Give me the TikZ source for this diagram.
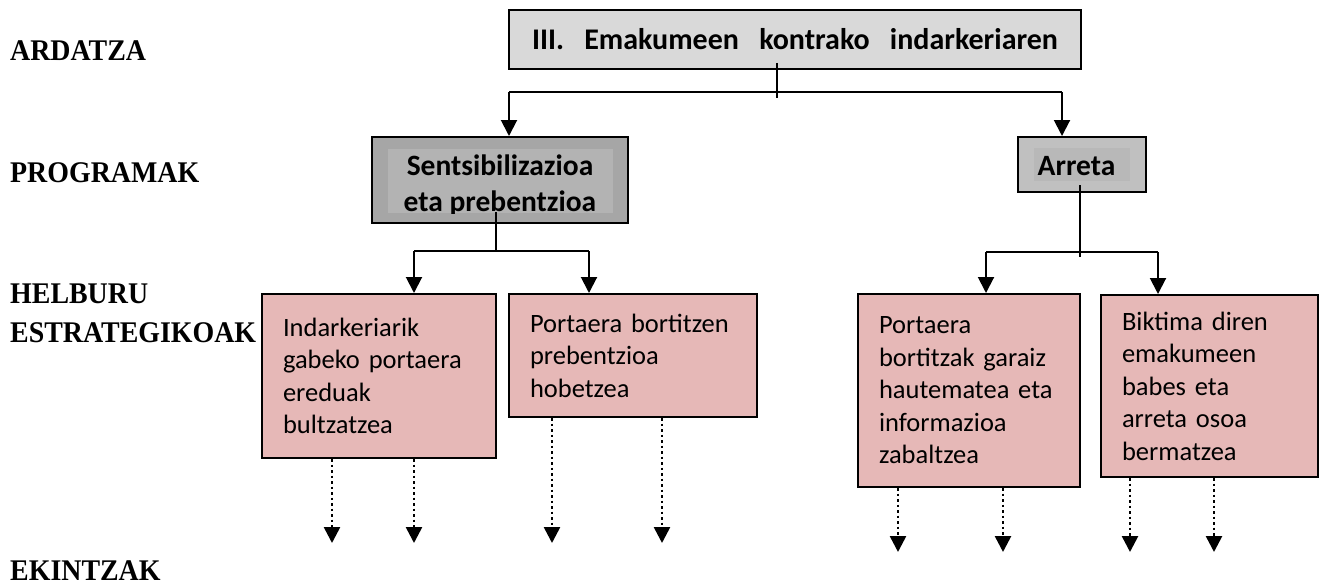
\documentclass[tikz,border=0pt]{standalone}
\usepackage{fontspec}
\setmainfont{Carlito}
\newfontfamily\labelfont[FakeStretch=0.93]{Liberation Serif}
\usetikzlibrary{arrows.meta}
\definecolor{topgray}{HTML}{D9D9D9}
\definecolor{progdark}{HTML}{A6A6A6}
\definecolor{progdarkin}{HTML}{B3B3B3}
\definecolor{progmid}{HTML}{C0C0C0}
\definecolor{progmidin}{HTML}{B8B8B8}
\definecolor{pinkfill}{HTML}{E6B8B7}
\tikzset{
  levellabel/.style={anchor=base west, inner sep=0pt, font=\labelfont\bfseries\fontsize{30}{36}\selectfont},
  boxbase/.style={draw=black, line width=2pt, rectangle, inner sep=0pt},
  pinkbox/.style={boxbase, fill=pinkfill, align=left, inner xsep=21pt, inner ysep=0pt,
                  font=\fontsize{26.5}{32.5}\selectfont},
  innerfill/.style={rectangle, draw=none, inner sep=0pt},
  progtext/.style={anchor=base, inner sep=0pt, font=\bfseries\fontsize{29.5}{36}\selectfont},
  conn/.style={draw=black, line width=2pt},
  arr/.style={conn, -{Triangle[width=16pt,length=16pt]}},
  dotarr/.style={draw=black, line width=2.6pt, dash pattern=on 2.6pt off 2.9pt, -{Triangle[width=16pt,length=16pt]}}
}
\begin{document}
\begin{tikzpicture}[x=1pt,y=-1pt]
\useasboundingbox (0,0) rectangle (1319,586);

% level labels
\node[levellabel] (lArd) at (10,60) {ARDATZA};
\node[levellabel] (lProg) at (10,182) {PROGRAMAK};
\node[levellabel] (lHelb) at (10,303) {HELBURU};
\node[levellabel] (lEstr) at (10,342) {ESTRATEGIKOAK};
\node[levellabel] (lEkin) at (10,580) {EKINTZAK};

% axis box
\node[boxbase, fill=topgray, minimum width=572pt, minimum height=59pt,
      text height=21pt, text depth=0pt, font=\bfseries\fontsize{30}{36}\selectfont]
  (top) at (795,39.5) {\makebox[526pt][s]{III.\hfill Emakumeen\hfill kontrako\hfill indarkeriaren}};

% program boxes
\node[boxbase, fill=progdark, minimum width=256pt, minimum height=86pt] (prog1) at (500,180) {};
\node[innerfill, fill=progdarkin, minimum width=225pt, minimum height=64pt] (prog1in) at (500.5,181) {};
\begin{scope}
  \clip (388,149) rectangle (613,213);
  \node[progtext] (prog1a) at (500,175) {Sentsibilizazioa};
  \node[progtext] (prog1b) at (500,211) {eta prebentzioa};
\end{scope}

\node[boxbase, fill=progmid, minimum width=128pt, minimum height=55pt] (prog2) at (1082,164.5) {};
\node[innerfill, fill=progmidin, minimum width=96pt, minimum height=33pt] (prog2in) at (1082,164.5) {};
\node[progtext] (prog2t) at (1076.5,175) {Arreta};

% strategic objective boxes
\node[pinkbox, minimum width=234pt, minimum height=164pt, text width=192pt] (obj1) at (379,376)
  {Indarkeriarik\\gabeko portaera\\ereduak\\bultzatzea};
\node[pinkbox, minimum width=248pt, minimum height=123pt, text width=206pt] (obj2) at (633,355.5)
  {Portaera bortitzen\\prebentzioa\\hobetzea};
\node[pinkbox, minimum width=222pt, minimum height=193pt, text width=180pt] (obj3) at (969,390.5)
  {Portaera\\bortitzak garaiz\\hautematea eta\\informazioa\\zabaltzea};
\node[pinkbox, minimum width=217pt, minimum height=182pt, text width=175pt] (obj4) at (1209.5,386)
  {Biktima diren\\emakumeen\\babes eta\\arreta osoa\\bermatzea};

% connectors: axis -> programs
\coordinate (tStemA) at (777,63);
\coordinate (tStemB) at (777,98);
\coordinate (tL) at (509,92);
\coordinate (tR) at (1062,92);
\draw[conn] (tStemA) -- (tStemB);
\draw[conn] (tL) -- (tR);
\draw[arr] (tL) -- (tL |- prog1.north);
\draw[arr] (tR) -- (tR |- prog2.north);

% program 1 -> objectives
\coordinate (p1StemA) at (496,212);
\coordinate (p1StemB) at (496,251);
\coordinate (p1L) at (414,251);
\coordinate (p1R) at (589,251);
\draw[conn] (p1StemA) -- (p1StemB);
\draw[conn] (p1L) -- (p1R);
\draw[arr] (p1L) -- (p1L |- obj1.north);
\draw[arr] (p1R) -- (p1R |- obj2.north);

% program 2 -> objectives
\coordinate (p2StemA) at (1080,185);
\coordinate (p2StemB) at (1080,257);
\coordinate (p2L) at (986,252);
\coordinate (p2R) at (1158,252);
\draw[conn] (p2StemA) -- (p2StemB);
\draw[conn] (p2L) -- (p2R);
\draw[arr] (p2L) -- (p2L |- obj3.north);
\draw[arr] (p2R) -- (p2R |- obj4.north);

% objectives -> actions (dotted)
\coordinate (a1) at (332,543);
\coordinate (a2) at (414,543);
\coordinate (a3) at (552,543);
\coordinate (a4) at (662,543);
\coordinate (a5) at (898,552);
\coordinate (a6) at (1003,552);
\coordinate (a7) at (1130,552);
\coordinate (a8) at (1214,552);
\draw[dotarr] (a1 |- obj1.south) -- (a1);
\draw[dotarr] (a2 |- obj1.south) -- (a2);
\draw[dotarr] (a3 |- obj2.south) -- (a3);
\draw[dotarr] (a4 |- obj2.south) -- (a4);
\draw[dotarr] (a5 |- obj3.south) -- (a5);
\draw[dotarr] (a6 |- obj3.south) -- (a6);
\draw[dotarr] (a7 |- obj4.south) -- (a7);
\draw[dotarr] (a8 |- obj4.south) -- (a8);
\end{tikzpicture}
\end{document}
